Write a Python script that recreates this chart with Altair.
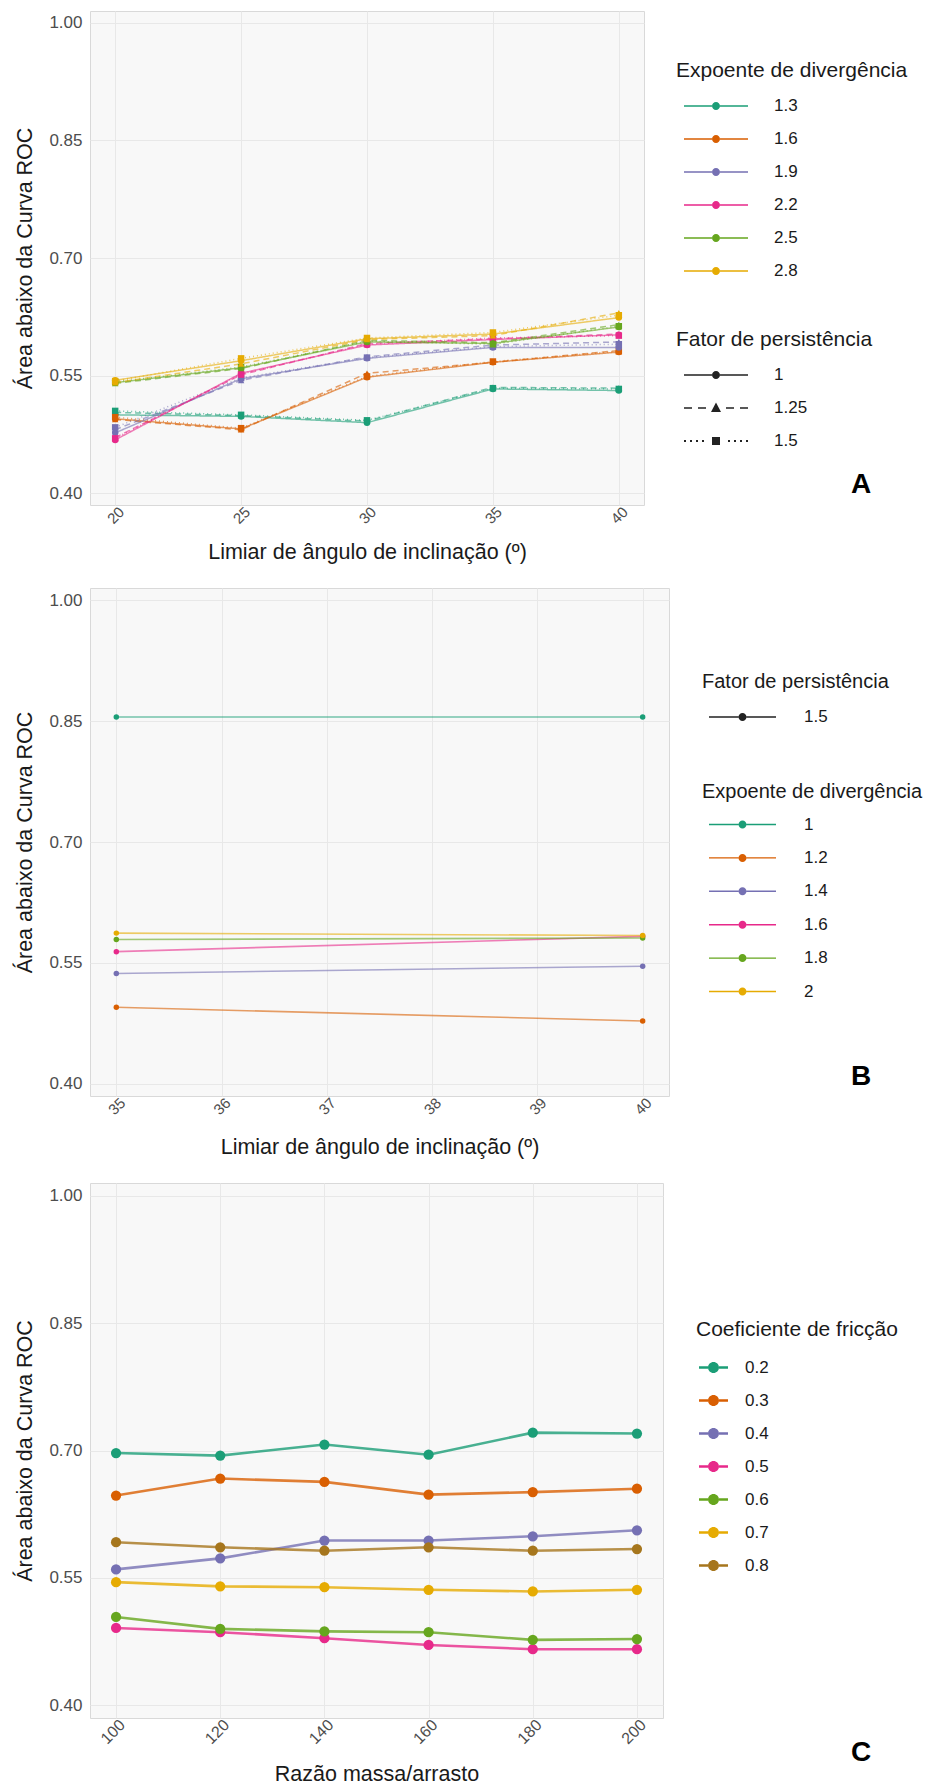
import altair as alt
import pandas as pd

FONT = "Liberation Sans"
DARK2 = ["#1B9E77", "#D95F02", "#7570B3", "#E7298A", "#66A61E", "#E6AB02", "#A6761D"]
Y_TICKS = [0.40, 0.55, 0.70, 0.85, 1.00]
Y_TITLE = "Área abaixo da Curva ROC"

# ---------------- Panel A data ----------------
a_threshold = [20, 25, 30, 35, 40]
a_exponents = ["1.3", "1.6", "1.9", "2.2", "2.5", "2.8"]
a_factors = ["1", "1.25", "1.5"]
a_auc_1_3 = {"1": [0.500, 0.498, 0.490, 0.533, 0.531],
             "1.25": [0.503, 0.499, 0.492, 0.535, 0.534],
             "1.5": [0.505, 0.500, 0.493, 0.534, 0.533]}
a_auc_1_6 = {"1": [0.495, 0.482, 0.548, 0.567, 0.580],
             "1.25": [0.494, 0.481, 0.553, 0.567, 0.582],
             "1.5": [0.497, 0.483, 0.549, 0.568, 0.581]}
a_auc_1_9 = {"1": [0.477, 0.546, 0.572, 0.586, 0.586],
             "1.25": [0.481, 0.544, 0.574, 0.589, 0.593],
             "1.5": [0.484, 0.547, 0.573, 0.587, 0.590]}
a_auc_2_2 = {"1": [0.468, 0.553, 0.589, 0.596, 0.602],
             "1.25": [0.471, 0.551, 0.591, 0.597, 0.603],
             "1.5": [0.470, 0.552, 0.590, 0.598, 0.601]}
a_auc_2_5 = {"1": [0.541, 0.560, 0.593, 0.591, 0.612],
             "1.25": [0.540, 0.559, 0.595, 0.592, 0.615],
             "1.5": [0.542, 0.561, 0.594, 0.590, 0.613]}
a_auc_2_8 = {"1": [0.544, 0.569, 0.597, 0.603, 0.624],
             "1.25": [0.541, 0.565, 0.596, 0.601, 0.630],
             "1.5": [0.543, 0.572, 0.598, 0.605, 0.627]}

# ---------------- Panel B data ----------------
b_threshold = [35, 40]
b_exponents = ["1", "1.2", "1.4", "1.6", "1.8", "2"]
b_factor = "1.5"
b_auc_1 = [0.855, 0.855]
b_auc_1_2 = [0.495, 0.478]
b_auc_1_4 = [0.537, 0.546]
b_auc_1_6 = [0.564, 0.583]
b_auc_1_8 = [0.579, 0.581]
b_auc_2 = [0.587, 0.584]

# ---------------- Panel C data ----------------
c_ratio = [100, 120, 140, 160, 180, 200]
c_coefs = ["0.2", "0.3", "0.4", "0.5", "0.6", "0.7", "0.8"]
c_auc_0_2 = [0.697, 0.694, 0.707, 0.695, 0.721, 0.720]
c_auc_0_3 = [0.647, 0.667, 0.663, 0.648, 0.651, 0.655]
c_auc_0_4 = [0.560, 0.573, 0.594, 0.594, 0.599, 0.606]
c_auc_0_5 = [0.491, 0.486, 0.479, 0.471, 0.466, 0.466]
c_auc_0_6 = [0.504, 0.490, 0.487, 0.486, 0.477, 0.478]
c_auc_0_7 = [0.545, 0.540, 0.539, 0.536, 0.534, 0.536]
c_auc_0_8 = [0.592, 0.586, 0.582, 0.586, 0.582, 0.584]

# ---------------- tables ----------------
rows = []
for e, s in zip(a_exponents, [a_auc_1_3, a_auc_1_6, a_auc_1_9, a_auc_2_2, a_auc_2_5, a_auc_2_8]):
    for f in a_factors:
        for x, v in zip(a_threshold, s[f]):
            rows.append({"x": x, "auc": v, "exp": e, "fac": f})
df_a = pd.DataFrame(rows)

rows = []
for e, s in zip(b_exponents, [b_auc_1, b_auc_1_2, b_auc_1_4, b_auc_1_6, b_auc_1_8, b_auc_2]):
    for x, v in zip(b_threshold, s):
        rows.append({"x": x, "auc": v, "exp": e, "fac": b_factor})
df_b = pd.DataFrame(rows)

rows = []
for c, s in zip(c_coefs, [c_auc_0_2, c_auc_0_3, c_auc_0_4, c_auc_0_5, c_auc_0_6, c_auc_0_7, c_auc_0_8]):
    for x, v in zip(c_ratio, s):
        rows.append({"x": x, "auc": v, "coef": c})
df_c = pd.DataFrame(rows)

# ---------------- legend key glyphs ----------------
# symbols are drawn with symbolSize = 17*17, i.e. 8.5 px per path unit
U = 8.5


def rect(x0, x1, y0, y1):
    return (f"M{x0 / U:.4f},{y0 / U:.4f}L{x1 / U:.4f},{y0 / U:.4f}"
            f"L{x1 / U:.4f},{y1 / U:.4f}L{x0 / U:.4f},{y1 / U:.4f}Z")


def circle(r):
    r = r / U
    return f"M{-r:.4f},0A{r:.4f},{r:.4f} 0 1,1 {r:.4f},0A{r:.4f},{r:.4f} 0 1,1 {-r:.4f},0Z"


def line_dot(half, r, t):
    return rect(-half, -r, -t, t) + rect(r, half, -t, t) + circle(r)


def triangle(w, top, bot):
    return f"M{-w / U:.4f},{bot / U:.4f}L{w / U:.4f},{bot / U:.4f}L0,{-top / U:.4f}Z"


KEY_A = line_dot(32, 4, 0.7)
KEY_A_SOLID = line_dot(32, 4, 0.7)
KEY_A_DASH = (rect(-32, -24, -0.7, 0.7) + rect(-18, -10, -0.7, 0.7) + rect(10, 18, -0.7, 0.7)
              + rect(24, 32, -0.7, 0.7) + triangle(5, 5.5, 4))
KEY_A_DOT = "".join(rect(x - 1, x + 1, -1, 1) for x in [-31, -25, -19, -13, 13, 19, 25, 31]) + \
    rect(-4, 4, -4, 4)
KEY_B = line_dot(33.5, 4, 0.7)
KEY_C = line_dot(14.5, 5.5, 1.3)
KEY_SIZE = 289


def y_axis():
    return alt.Axis(values=Y_TICKS, format=".2f", title=Y_TITLE, titlePadding=12,
                    labelPadding=8, labelFontSize=17)


def x_axis(values, title, tp, fs):
    return alt.Axis(values=values, title=title, labelAngle=315, labelAlign="right",
                    labelBaseline="middle", labelPadding=4, labelOffset=6,
                    titlePadding=tp, labelFontSize=fs)


def letter(ch, px, py):
    return alt.Chart(pd.DataFrame({"t": [ch]})).mark_text(
        font=FONT, fontSize=28, fontWeight="bold", color="#000000", align="center",
        baseline="alphabetic").encode(x=alt.value(px), y=alt.value(py), text="t:N")


def legend(title, lx, ly, so, lo, tp, rp, **kw):
    return alt.Legend(title=title, orient="none", legendX=lx, legendY=ly, symbolSize=KEY_SIZE,
                      symbolOffset=so, labelOffset=lo, titlePadding=tp, rowPadding=rp, **kw)


# ---------------- Panel A ----------------
WA, HA = 554, 494
xa = alt.X("x:Q", scale=alt.Scale(domain=[19, 41], nice=False, zero=False),
           axis=x_axis(a_threshold, "Limiar de ângulo de inclinação (º)", 15, 15))
ya = alt.Y("auc:Q", scale=alt.Scale(domain=[0.385, 1.015], nice=False, zero=False), axis=y_axis())
base_a = alt.Chart(df_a)
lines_a = base_a.mark_line(strokeWidth=1.5, opacity=0.6).encode(
    x=xa, y=ya,
    stroke=alt.Stroke("exp:N", scale=alt.Scale(range=DARK2[:6]), legend=None),
    strokeDash=alt.StrokeDash("fac:N", scale=alt.Scale(domain=a_factors, range=[[1, 0], [6, 4], [1, 3]]),
                              legend=None))
pts_a = base_a.mark_point(filled=True, size=42, opacity=1).encode(
    x=xa, y=ya,
    fill=alt.Fill("exp:N", scale=alt.Scale(range=DARK2[:6]), legend=None),
    shape=alt.Shape("fac:N", scale=alt.Scale(domain=a_factors, range=["circle", "triangle-up", "square"]),
                    legend=None))
leg_a = base_a.mark_point(filled=True, size=0, strokeWidth=0).encode(
    x=xa, y=ya,
    color=alt.Color("exp:N", scale=alt.Scale(domain=a_exponents, range=DARK2[:6]),
                    legend=legend("Expoente de divergência", 586, 49, 31.5, 49.5, 16.5, 15, symbolType=KEY_A)),
    shape=alt.Shape("fac:N", scale=alt.Scale(domain=a_factors, range=[KEY_A_SOLID, KEY_A_DASH, KEY_A_DOT]),
                    legend=legend("Fator de persistência", 586, 318, 31.5, 49.5, 16.5, 15,
                                  symbolFillColor="#222222")))
panel_a = alt.layer(lines_a, pts_a, leg_a, letter("A", 771, 482)).resolve_scale(
    shape="independent").properties(width=WA, height=HA)

# ---------------- Panel B ----------------
WB, HB = 579, 508
xb = alt.X("x:Q", scale=alt.Scale(domain=[34.75, 40.25], nice=False, zero=False),
           axis=x_axis([35, 36, 37, 38, 39, 40], "Limiar de ângulo de inclinação (º)", 19, 15))
yb = alt.Y("auc:Q", scale=alt.Scale(domain=[0.385, 1.015], nice=False, zero=False), axis=y_axis())
base_b = alt.Chart(df_b)
lines_b = base_b.mark_line(strokeWidth=1.6, opacity=0.6).encode(
    x=xb, y=yb, stroke=alt.Stroke("exp:N", scale=alt.Scale(range=DARK2[:6]), legend=None))
pts_b = base_b.mark_point(filled=True, size=30, opacity=1, shape="circle").encode(
    x=xb, y=yb, fill=alt.Fill("exp:N", scale=alt.Scale(range=DARK2[:6]), legend=None))
leg_b = base_b.mark_point(filled=True, size=0, strokeWidth=0).encode(
    x=xb, y=yb,
    shape=alt.Shape("fac:N", scale=alt.Scale(domain=[b_factor], range=[KEY_B]),
                    legend=legend("Fator de persistência", 612, 84, 32, 53, 16.5, 15.4,
                                  symbolFillColor="#222222", titleFontSize=20)),
    color=alt.Color("exp:N", scale=alt.Scale(domain=b_exponents, range=DARK2[:6]),
                    legend=legend("Expoente de divergência", 612, 194, 32, 53, 14, 15.4, symbolType=KEY_B,
                                  titleFontSize=20)))
panel_b = alt.layer(lines_b, pts_b, leg_b, letter("B", 771, 497)).resolve_scale(
    shape="independent").properties(width=WB, height=HB)

# ---------------- Panel C ----------------
WC, HC = 573, 535
xc = alt.X("x:Q", scale=alt.Scale(domain=[95, 205], nice=False, zero=False),
           axis=x_axis(c_ratio, "Razão massa/arrasto", 16.5, 16))
yc = alt.Y("auc:Q", scale=alt.Scale(domain=[0.385, 1.015], nice=False, zero=False), axis=y_axis())
base_c = alt.Chart(df_c)
lines_c = base_c.mark_line(strokeWidth=2.6, opacity=0.8).encode(
    x=xc, y=yc, stroke=alt.Stroke("coef:N", scale=alt.Scale(range=DARK2[:7]), legend=None))
pts_c = base_c.mark_point(filled=True, size=105, opacity=1, shape="circle").encode(
    x=xc, y=yc, fill=alt.Fill("coef:N", scale=alt.Scale(range=DARK2[:7]), legend=None))
leg_c = base_c.mark_point(filled=True, size=0, strokeWidth=0).encode(
    x=xc, y=yc,
    color=alt.Color("coef:N", scale=alt.Scale(domain=c_coefs, range=DARK2[:7]),
                    legend=legend("Coeficiente de fricção", 606, 136, 9, 23, 19, 15, symbolType=KEY_C)))
panel_c = alt.layer(lines_c, pts_c, leg_c, letter("C", 771, 578)).properties(width=WC, height=HC)

IND = dict(color="independent", fill="independent", stroke="independent",
           shape="independent", strokeDash="independent")
chart = alt.vconcat(panel_a, panel_b, panel_c, spacing=23).resolve_scale(**IND).resolve_legend(
    color="independent", shape="independent"
).properties(
    padding={"left": 6, "top": 2, "right": 0, "bottom": 0}
).configure_view(
    fill="#F8F8F8", stroke="#D9D9D9", strokeWidth=1
).configure_axis(
    domain=False, ticks=False, grid=True, gridColor="#E8E8E8", gridWidth=1,
    labelFont=FONT, titleFont=FONT, labelColor="#4D4D4D", titleColor="#1A1A1A",
    titleFontWeight="normal", titleFontSize=21.5
).configure_legend(
    titleFont=FONT, labelFont=FONT, titleFontWeight="normal", titleFontSize=21, labelFontSize=17,
    titleColor="#1A1A1A", labelColor="#1A1A1A", padding=0, symbolStrokeWidth=0, symbolOpacity=1,
    titleLimit=400, labelLimit=200
)

chart.save("out.html", embed_options={"renderer": "svg", "actions": False})
